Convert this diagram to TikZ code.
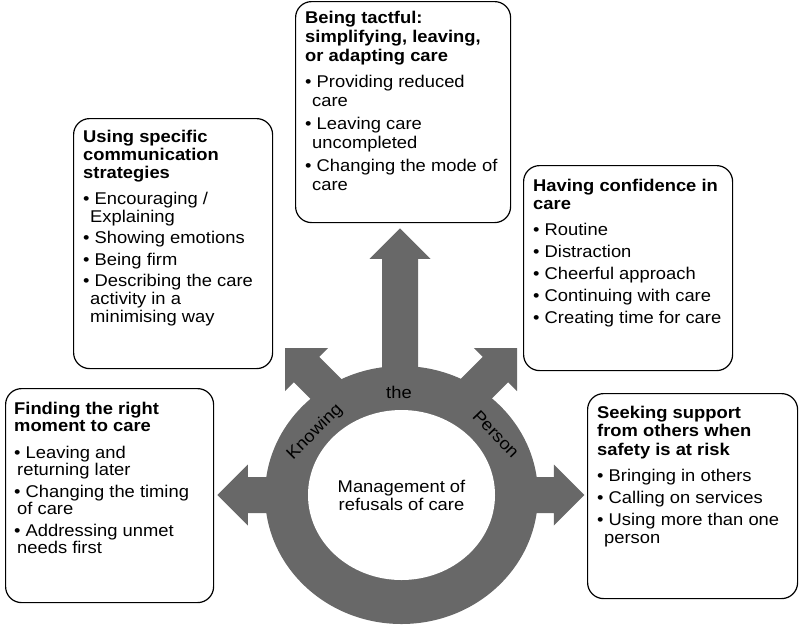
\documentclass[tikz,border=0pt]{standalone}
\usepackage{fontspec}
\setmainfont{Liberation Sans}[FakeStretch=1.08]
\definecolor{ringgray}{RGB}{104,104,104}
\newcommand{\bl}{\textbullet\ }
\newcommand{\ct}{\hspace*{7pt}}
\newcommand{\cts}{\hspace*{3pt}}
\newcommand{\bigarrow}[4]{%
  \fill[ringgray, shift={(#1,#2)}, rotate=#3]
    (0,0) -- (-30.5,30.5) -- (-30.5,18) -- (-#4,18) -- (-#4,-18)
    -- (-30.5,-18) -- (-30.5,-30.5) -- cycle;}
\begin{document}
\begin{tikzpicture}[x=1pt,y=-1pt,
  box/.style={draw=black, line width=1.2pt, rounded corners=16pt, fill=white,
    anchor=north west, inner sep=0pt},
  txt/.style={anchor=base west, inner sep=0pt},
  ringtxt/.style={inner sep=0pt, font=\fontsize{17}{18}\selectfont}]
\useasboundingbox (0,0) rectangle (800,625);

% arrows around the ring
\bigarrow{217.3}{495}{180}{70}
\bigarrow{584.3}{495}{0}{70}
\bigarrow{400}{228.3}{90}{165}
\bigarrow{285}{348}{135}{80}
\bigarrow{517}{348}{45}{80}

% ring
\fill[ringgray] (401.5,495) ellipse [x radius=136.5pt, y radius=129pt];
\fill[white] (401.5,495) ellipse [x radius=93.5pt, y radius=85pt];

% ring texts
\node[ringtxt, rotate=45] (k) at (315,432) {Knowing};
\node[ringtxt, anchor=base] (th) at (399,398) {the};
\node[ringtxt, rotate=-46] (p) at (496,434) {Person};
\node[ringtxt, anchor=base] (c) at (401.5,492)
  {\begin{tabular}[t]{@{}c@{}}Management of\\refusals of care\end{tabular}};

% boxes
\node[box, minimum width=208pt, minimum height=214pt] (b1) at (5,388) {};
\node[box, minimum width=199pt, minimum height=250pt] (b2) at (73,118) {};
\node[box, minimum width=215pt, minimum height=221pt] (b3) at (295,1) {};
\node[box, minimum width=209pt, minimum height=205pt] (b4) at (523,165) {};
\node[box, minimum width=210pt, minimum height=205pt] (b5) at (587,393) {};

% box texts
\node[txt, font=\fontsize{17}{17.5}\selectfont] (t1) at (14,414)
 {\begin{tabular}[t]{@{}l@{}}\textbf{Finding the right}\\\textbf{moment to care}\\[9pt]
 \bl Leaving and\\\cts returning later\\[4pt]
 \bl Changing the timing\\\cts of care\\[4pt]
 \bl Addressing unmet\\\cts needs first\end{tabular}};

\node[txt, font=\fontsize{17}{18}\selectfont] (t2) at (83,142)
 {\begin{tabular}[t]{@{}l@{}}\textbf{Using specific}\\\textbf{communication}\\\textbf{strategies}\\[8pt]
 \bl Encouraging /\\\ct Explaining\\[3.5pt]
 \bl Showing emotions\\[3.5pt]
 \bl Being firm\\[3.5pt]
 \bl Describing the care\\\ct activity in a\\\ct minimising way\end{tabular}};

\node[txt, font=\fontsize{17}{19}\selectfont] (t3) at (305,23)
 {\begin{tabular}[t]{@{}l@{}}\textbf{Being tactful:}\\\textbf{simplifying, leaving,}\\\textbf{or adapting care}\\[7pt]
 \bl Providing reduced\\\ct care\\[4pt]
 \bl Leaving care\\\ct uncompleted\\[4pt]
 \bl Changing the mode of\\\ct care\end{tabular}};

\node[txt, font=\fontsize{17}{18}\selectfont] (t4) at (533,191)
 {\begin{tabular}[t]{@{}l@{}}\textbf{Having confidence in}\\\textbf{care}\\[8pt]
 \bl Routine\\[4pt]
 \bl Distraction\\[4pt]
 \bl Cheerful approach\\[4pt]
 \bl Continuing with care\\[4pt]
 \bl Creating time for care\end{tabular}};

\node[txt, font=\fontsize{17}{18.5}\selectfont] (t5) at (597,418)
 {\begin{tabular}[t]{@{}l@{}}\textbf{Seeking support}\\\textbf{from others when}\\\textbf{safety is at risk}\\[7.5pt]
 \bl Bringing in others\\[3.5pt]
 \bl Calling on services\\[3.5pt]
 \bl Using more than one\\\ct person\end{tabular}};
\end{tikzpicture}
\end{document}
